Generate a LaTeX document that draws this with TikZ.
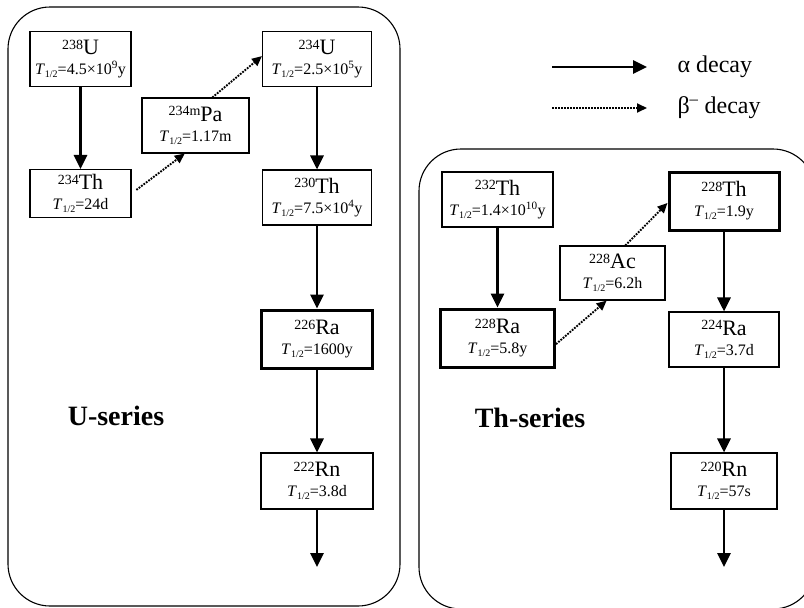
\documentclass[tikz,border=0pt]{standalone}
\usepackage{fontspec}
\setmainfont{Liberation Serif}
\usetikzlibrary{arrows.meta}

% nuclide name and half-life lines
\newcommand{\nuc}[2]{{\fontsize{22}{24}\selectfont\raisebox{5.5pt}{\fontsize{14}{14}\selectfont #1}#2}}
\newcommand{\thalf}[1]{{\fontsize{16}{20}\selectfont\textit{T}\raisebox{-3pt}{\fontsize{10}{10}\selectfont 1/2}=#1}}

\tikzset{
  nucbox/.style={draw, line width=1.1pt, inner sep=0pt, align=center,
    minimum height=55pt, font=\fontsize{16}{20}\selectfont},
  keybox/.style={nucbox, line width=3pt},
  alphadecay/.style={line width=2.8pt, -{Triangle[length=14pt,width=13pt]}},
  betadecay/.style={line width=1.9pt, dash pattern=on 1.8pt off 1.2pt,
    -{Triangle[length=10pt,width=9pt]}},
  seriesbox/.style={draw, line width=1.1pt, rounded corners=42pt},
  serieslabel/.style={font=\fontsize{28}{30}\selectfont\bfseries},
  legendtext/.style={anchor=west, font=\fontsize{24}{26}\selectfont},
}

\begin{document}
\begin{tikzpicture}[x=1pt,y=-1pt]
  \clip (0,0) rectangle (804,608);
  % series frames
  \draw[seriesbox] (8,7) rectangle (400,606);
  \draw[seriesbox] (419,149) rectangle (815,609);

  % U-series
  \node[nucbox, minimum width=101pt] (u238) at (80.5,59) {\nuc{238}{U}\\\thalf{4.5×10\textsuperscript{9}y}};
  \node[nucbox, minimum width=101pt, minimum height=48pt] (th234) at (80.5,193.5) {\nuc{234}{Th}\\\thalf{24d}};
  \node[nucbox, minimum width=107pt] (pa234) at (195.5,125.5) {\nuc{234m}{Pa}\\\thalf{1.17m}};
  \node[nucbox, minimum width=109pt] (u234) at (317,59) {\nuc{234}{U}\\\thalf{2.5×10\textsuperscript{5}y}};
  \node[nucbox, minimum width=109pt] (th230) at (317,197.5) {\nuc{230}{Th}\\\thalf{7.5×10\textsuperscript{4}y}};
  \node[keybox, minimum width=111pt, minimum height=58pt] (ra226) at (317,339) {\nuc{226}{Ra}\\\thalf{1600y}};
  \node[nucbox, minimum width=112pt, minimum height=56pt] (rn222) at (317,481) {\nuc{222}{Rn}\\\thalf{3.8d}};
  \coordinate (uend) at (317,567);
  \node[serieslabel] (ulabel) at (116,416) {U-series};

  \draw[alphadecay] (u238.south) -- (th234.north);
  \draw[alphadecay] (u234.south) -- (th230.north);
  \draw[alphadecay] (th230.south) -- (ra226.north);
  \draw[alphadecay] (ra226.south) -- (rn222.north);
  \draw[alphadecay] (rn222.south) -- (uend);
  \draw[betadecay, shorten <=6pt] (th234.east) -- (pa234.249);
  \draw[betadecay] (pa234.59) -- (u234.177);

  % Th-series
  \node[nucbox, minimum width=111pt] (th232) at (497.5,199.5) {\nuc{232}{Th}\\\thalf{1.4×10\textsuperscript{10}y}};
  \node[keybox, minimum width=114pt, minimum height=58pt] (ra228) at (497.5,338) {\nuc{228}{Ra}\\\thalf{5.8y}};
  \node[nucbox, minimum width=105pt, minimum height=54pt] (ac228) at (612.5,273) {\nuc{228}{Ac}\\\thalf{6.2h}};
  \node[keybox, minimum width=110pt, minimum height=58pt] (th228) at (724,201) {\nuc{228}{Th}\\\thalf{1.9y}};
  \node[nucbox, minimum width=110pt] (ra224) at (724,339.5) {\nuc{224}{Ra}\\\thalf{3.7d}};
  \node[nucbox, minimum width=106pt, minimum height=56pt] (rn220) at (724,481) {\nuc{220}{Rn}\\\thalf{57s}};
  \coordinate (thend) at (724,567);
  \node[serieslabel] (thlabel) at (530,418) {Th-series};

  \draw[alphadecay] (th232.south) -- (ra228.north);
  \draw[alphadecay] (th228.south) -- (ra224.north);
  \draw[alphadecay] (ra224.south) -- (rn220.north);
  \draw[alphadecay] (rn220.south) -- (thend);
  \draw[betadecay] (ra228.-6) -- (ac228.258);
  \draw[betadecay] (ac228.65) -- (th228.182);

  % legend
  \coordinate (alphaL) at (552,67);
  \coordinate (alphaR) at (647,67);
  \coordinate (betaL) at (552,108);
  \coordinate (betaR) at (647,108);
  \draw[alphadecay] (alphaL) -- (alphaR);
  \draw[betadecay] (betaL) -- (betaR);
  \node[legendtext] (alphatext) at (674,67) {α decay};
  \node[legendtext] (betatext) at (674,108) {β\textsuperscript{–} decay};
\end{tikzpicture}
\end{document}
